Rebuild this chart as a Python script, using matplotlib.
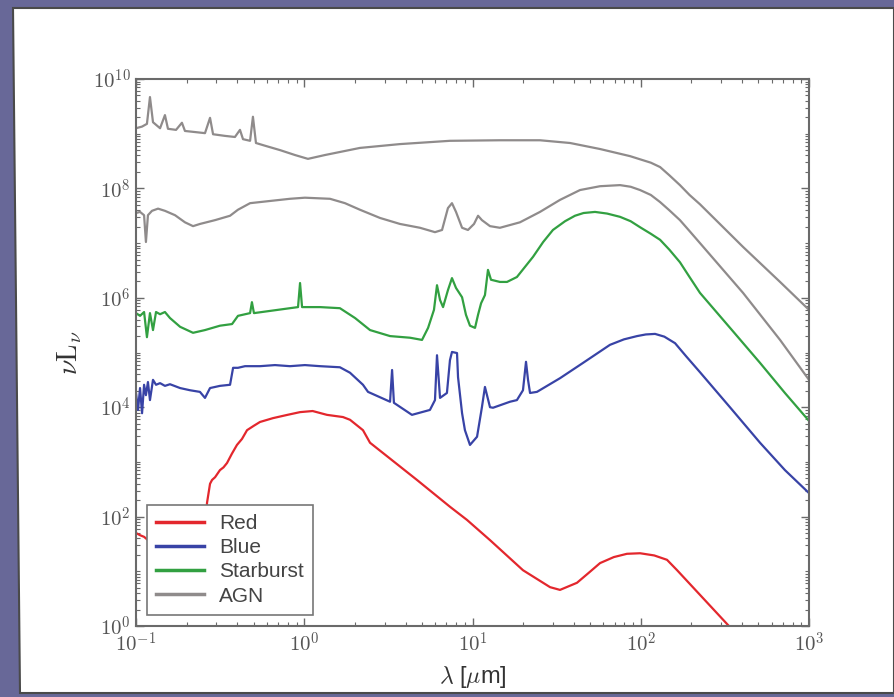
import numpy as np
import matplotlib
matplotlib.use("Agg")
import matplotlib.pyplot as plt
from matplotlib.patches import Polygon
from matplotlib.ticker import LogLocator, FuncFormatter, NullFormatter

plt.rcParams['mathtext.fontset'] = 'cm'

# SED templates: log10(lambda / um) and log10(nu L_nu)
agn_hi_loglam = [-1.00, -0.964, -0.935, -0.917, -0.899, -0.857, -0.828, -0.810, -0.762, -0.727,
                 -0.709, -0.649, -0.590, -0.560, -0.542, -0.471, -0.412, -0.382, -0.364, -0.322,
                 -0.305, -0.287, -0.233, -0.144, -0.055, 0.022, 0.123, 0.331, 0.569, 0.866,
                 1.163, 1.401, 1.580, 1.758, 1.936, 2.06, 2.115, 2.17, 2.233, 2.29,
                 2.352, 2.608, 2.828, 3.00]
agn_hi_logL = [9.10, 9.13, 9.18, 9.67, 9.21, 9.10, 9.34, 9.09, 9.07, 9.20,
               9.05, 9.03, 9.01, 9.29, 8.99, 8.96, 8.94, 9.07, 8.90, 8.87,
               9.31, 8.83, 8.78, 8.70, 8.61, 8.54, 8.61, 8.74, 8.81, 8.87,
               8.88, 8.88, 8.83, 8.72, 8.59, 8.47, 8.39, 8.24, 8.06, 7.88,
               7.71, 6.93, 6.29, 5.78]

agn_lo_loglam = [-1.00, -0.976, -0.952, -0.941, -0.929, -0.905, -0.869, -0.828, -0.768, -0.709,
                 -0.661, -0.620, -0.530, -0.441, -0.394, -0.322, -0.204, -0.085, 0.004, 0.153,
                 0.242, 0.331, 0.450, 0.569, 0.688, 0.777, 0.819, 0.854, 0.878, 0.902,
                 0.938, 0.973, 1.009, 1.033, 1.056, 1.104, 1.163, 1.282, 1.401, 1.520,
                 1.639, 1.758, 1.877, 1.94, 1.996, 2.06, 2.115, 2.17, 2.233, 2.29,
                 2.352, 2.608, 2.828, 3.00]
agn_lo_logL = [7.55, 7.57, 7.51, 7.02, 7.51, 7.59, 7.63, 7.59, 7.51, 7.38,
               7.31, 7.35, 7.42, 7.50, 7.61, 7.73, 7.77, 7.81, 7.83, 7.81,
               7.73, 7.61, 7.46, 7.35, 7.28, 7.20, 7.24, 7.64, 7.73, 7.57,
               7.28, 7.24, 7.35, 7.50, 7.42, 7.31, 7.28, 7.38, 7.57, 7.79,
               7.97, 8.04, 8.06, 8.03, 7.97, 7.88, 7.75, 7.60, 7.42, 7.22,
               7.00, 6.09, 5.23, 4.50]

sb_loglam = [-1.00, -0.976, -0.952, -0.935, -0.917, -0.899, -0.881, -0.857, -0.828, -0.798,
             -0.738, -0.661, -0.590, -0.501, -0.429, -0.394, -0.322, -0.311, -0.299, -0.204,
             -0.085, -0.037, -0.025, -0.013, 0.094, 0.212, 0.302, 0.391, 0.510, 0.629,
             0.700, 0.736, 0.771, 0.789, 0.807, 0.825, 0.854, 0.878, 0.902, 0.938,
             0.961, 0.985, 1.015, 1.033, 1.051, 1.074, 1.092, 1.110, 1.163, 1.205,
             1.264, 1.360, 1.42, 1.478, 1.55, 1.609, 1.66, 1.728, 1.80, 1.877,
             1.94, 1.996, 2.06, 2.115, 2.17, 2.233, 2.29, 2.352, 2.542, 2.709,
             2.857, 3.00]
sb_logL = [5.72, 5.67, 5.74, 5.28, 5.72, 5.41, 5.74, 5.70, 5.74, 5.63,
           5.47, 5.36, 5.41, 5.49, 5.52, 5.67, 5.72, 5.92, 5.72, 5.76,
           5.81, 5.83, 6.27, 5.83, 5.83, 5.81, 5.63, 5.41, 5.30, 5.27,
           5.23, 5.45, 5.78, 6.23, 5.96, 5.83, 6.14, 6.36, 6.18, 6.01,
           5.69, 5.49, 5.45, 5.69, 5.90, 6.05, 6.51, 6.33, 6.29, 6.29,
           6.38, 6.75, 7.02, 7.24, 7.40, 7.50, 7.55, 7.57, 7.54, 7.48,
           7.40, 7.29, 7.17, 7.06, 6.88, 6.65, 6.38, 6.09, 5.41, 4.81,
           4.26, 3.75]

blue_loglam = [-1.00, -0.988, -0.976, -0.964, -0.952, -0.941, -0.929, -0.917, -0.899, -0.881,
               -0.857, -0.828, -0.798, -0.738, -0.679, -0.620, -0.590, -0.560, -0.501, -0.441,
               -0.423, -0.394, -0.352, -0.263, -0.174, -0.085, 0.004, 0.094, 0.212, 0.272,
               0.349, 0.379, 0.510, 0.522, 0.533, 0.640, 0.747, 0.777, 0.789, 0.807,
               0.848, 0.866, 0.878, 0.908, 0.914, 0.938, 0.955, 0.985, 1.027, 1.056,
               1.074, 1.104, 1.122, 1.223, 1.264, 1.300, 1.318, 1.330, 1.342, 1.383,
               1.520, 1.657, 1.817, 1.90, 1.978, 2.03, 2.085, 2.14, 2.204, 2.27,
               2.352, 2.530, 2.709, 2.857, 3.00]
blue_logL = [4.26, 3.95, 4.35, 3.89, 4.41, 4.22, 4.46, 4.13, 4.50, 4.41,
             4.44, 4.39, 4.42, 4.35, 4.31, 4.28, 4.17, 4.35, 4.39, 4.41,
             4.72, 4.72, 4.75, 4.75, 4.77, 4.75, 4.77, 4.75, 4.73, 4.63,
             4.41, 4.28, 4.10, 4.68, 4.08, 3.86, 3.95, 4.13, 4.95, 4.17,
             4.26, 4.86, 5.01, 4.99, 4.55, 3.89, 3.58, 3.31, 3.46, 4.00,
             4.37, 4.00, 3.99, 4.10, 4.13, 4.31, 4.83, 4.50, 4.26, 4.28,
             4.53, 4.81, 5.14, 5.24, 5.30, 5.33, 5.34, 5.29, 5.17, 4.93,
             4.64, 4.00, 3.35, 2.85, 2.43]

red_loglam = [-1.00, -0.976, -0.952, -0.929, -0.857, -0.738, -0.620, -0.590, -0.578, -0.560,
              -0.548, -0.530, -0.501, -0.480, -0.459, -0.430, -0.400, -0.370, -0.340, -0.300,
              -0.263, -0.186, -0.100, -0.025, 0.050, 0.135, 0.230, 0.272, 0.349, 0.391,
              0.670, 0.866, 0.967, 1.104, 1.300, 1.461, 1.520, 1.621, 1.69, 1.758,
              1.84, 1.918, 1.996, 2.08, 2.156, 2.216, 2.530, 2.709]
red_logL = [1.70, 1.66, 1.63, 1.57, 1.00, 0.40, 0.80, 1.60, 2.25, 2.60,
            2.67, 2.72, 2.85, 2.90, 2.98, 3.15, 3.31, 3.42, 3.58, 3.66,
            3.73, 3.80, 3.86, 3.91, 3.93, 3.86, 3.82, 3.77, 3.58, 3.35,
            2.67, 2.18, 1.94, 1.57, 1.02, 0.71, 0.66, 0.79, 0.97, 1.15,
            1.26, 1.32, 1.33, 1.29, 1.21, 1.02, -0.02, -0.62]

series = [
    ("Red", red_loglam, red_logL, "#e3272d"),
    ("Blue", blue_loglam, blue_logL, "#3843a6"),
    ("Starburst", sb_loglam, sb_logL, "#32a041"),
    ("AGN", agn_lo_loglam, agn_lo_logL, "#8f8b8b"),
]

fig = plt.figure(figsize=(8.94, 6.97), dpi=100)
fig.patch.set_facecolor('#686898')
# white slide panel
W, H = 894.0, 697.0
panel = Polygon([(13 / W, 1 - 8 / H), (894 / W, 1 - 8 / H), (894 / W, 1 - 693 / H), (20 / W, 1 - 693 / H)],
                closed=True, transform=fig.transFigure, facecolor='white', edgecolor='#4a4a4a',
                lw=1.5, zorder=-10)
fig.patches.append(panel)

ax = fig.add_axes([136 / W, 1 - 626 / H, 673 / W, 547 / H])
ax.set_facecolor('white')

for name, lx, ly, col in series:
    ax.plot(10 ** np.array(lx), 10 ** np.array(ly), color=col, lw=1.6, label=name)
ax.plot(10 ** np.array(agn_hi_loglam), 10 ** np.array(agn_hi_logL), color="#8f8b8b", lw=1.6)

ax.set_xscale('log')
ax.set_yscale('log')
ax.set_xlim(0.1, 1000)
ax.set_ylim(1, 1e10)

ax.xaxis.set_major_locator(LogLocator(base=10, numticks=10))
ax.yaxis.set_major_locator(LogLocator(base=100, numticks=10))
ax.xaxis.set_minor_locator(LogLocator(base=10, subs=np.arange(2, 10), numticks=20))
ax.yaxis.set_minor_locator(LogLocator(base=10, subs=np.arange(1, 10), numticks=20))
ax.xaxis.set_minor_formatter(NullFormatter())
ax.yaxis.set_minor_formatter(NullFormatter())
fmt = FuncFormatter(lambda v, p: r'$10^{%d}$' % int(round(np.log10(v))))
ax.xaxis.set_major_formatter(fmt)
ax.yaxis.set_major_formatter(fmt)

spine_col = '#6a6a6a'
for s in ax.spines.values():
    s.set_color(spine_col)
    s.set_linewidth(1.5)
ax.tick_params(which='both', direction='in', top=True, right=True, colors=spine_col, labelcolor='#555555')
ax.tick_params(which='major', length=6, width=1, labelsize=15, pad=4)
ax.tick_params(which='minor', length=3, width=0.8)

ax.set_xlabel(r'$\lambda$ [$\mu$m]', fontsize=17, color='#333333', family='Liberation Sans', labelpad=6)
ax.set_ylabel(r'$\nu \mathrm{L}_\nu$', fontsize=20, color='#333333', labelpad=6)

leg = ax.legend(loc='lower left', bbox_to_anchor=(0.0163, 0.0201), borderaxespad=0,
                fancybox=False, frameon=True, framealpha=1, handlelength=2.3, labelspacing=0.25,
                prop={'family': 'Liberation Sans', 'size': 15}, borderpad=0.45, handletextpad=0.7)
leg.get_frame().set_edgecolor('#777777')
leg.get_frame().set_linewidth(1.2)
for t in leg.get_texts():
    t.set_color('#444444')
for l in leg.get_lines():
    l.set_linewidth(2.5)

fig.savefig('out.png', dpi=100, facecolor=fig.get_facecolor())
